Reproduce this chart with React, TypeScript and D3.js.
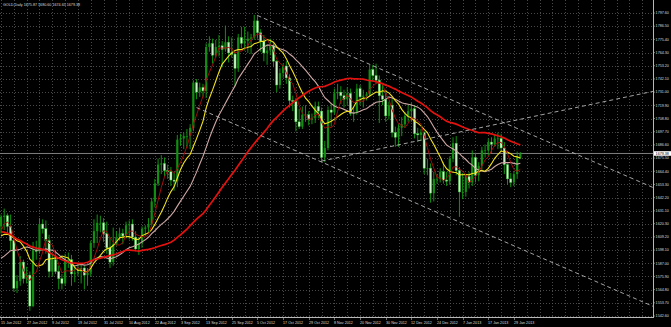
import React from 'react';
import * as d3 from 'd3';

const WIDTH = 671;
const HEIGHT = 327;
const PLOT_RIGHT = 653;
const PLOT_BOTTOM = 317;

type Bar = [number, number, number, number]; // open, high, low, close

// GOLD daily bars, 15 Jun 2012 – 31 Jan 2013
const jun2012: Bar[] = [
  [1618, 1628, 1612, 1626], [1626, 1633, 1615, 1627], [1627, 1629, 1612, 1618], [1618, 1628, 1598, 1606],
  [1606, 1610, 1563, 1566], [1566, 1577, 1562, 1572], [1572, 1593, 1568, 1588], [1588, 1590, 1570, 1574],
  [1574, 1584, 1570, 1577], [1577, 1580, 1547, 1551], [1551, 1605, 1550, 1598],
];
const jul2012: Bar[] = [
  [1598, 1606, 1590, 1597], [1597, 1625, 1595, 1620], [1620, 1624, 1612, 1616], [1616, 1623, 1595, 1606],
  [1606, 1611, 1575, 1580], [1580, 1595, 1576, 1590], [1590, 1598, 1578, 1580], [1580, 1585, 1565, 1574],
  [1574, 1578, 1565, 1570], [1570, 1595, 1568, 1589], [1589, 1596, 1583, 1590], [1590, 1594, 1568, 1578],
  [1578, 1584, 1571, 1579], [1579, 1587, 1576, 1580], [1580, 1587, 1570, 1583], [1583, 1585, 1565, 1577],
  [1577, 1583, 1568, 1579], [1579, 1606, 1576, 1604], [1604, 1624, 1600, 1614], [1614, 1628, 1604, 1621],
  [1621, 1627, 1613, 1621], [1621, 1625, 1605, 1612],
];
const aug2012: Bar[] = [
  [1612, 1622, 1595, 1600], [1600, 1609, 1583, 1588], [1588, 1617, 1585, 1603], [1603, 1614, 1602, 1609],
  [1609, 1617, 1606, 1612], [1612, 1616, 1603, 1610], [1610, 1622, 1608, 1619], [1619, 1623, 1607, 1620],
  [1620, 1624, 1606, 1609], [1609, 1614, 1597, 1599], [1599, 1608, 1594, 1604], [1604, 1618, 1600, 1616],
  [1616, 1619, 1610, 1617], [1617, 1625, 1613, 1620], [1620, 1642, 1618, 1639], [1639, 1658, 1634, 1654],
  [1654, 1675, 1652, 1670], [1670, 1678, 1662, 1671], [1671, 1676, 1660, 1665], [1665, 1670, 1658, 1664],
  [1664, 1668, 1652, 1657], [1657, 1663, 1648, 1656], [1656, 1695, 1651, 1691],
];
const sep2012: Bar[] = [
  [1691, 1696, 1686, 1692], [1692, 1697, 1683, 1694], [1694, 1700, 1684, 1694], [1694, 1704, 1683, 1701],
  [1701, 1741, 1698, 1739], [1739, 1742, 1725, 1731], [1731, 1739, 1727, 1735], [1735, 1738, 1727, 1732],
  [1732, 1772, 1726, 1769], [1769, 1778, 1765, 1772], [1772, 1776, 1755, 1762], [1762, 1775, 1760, 1769],
  [1769, 1779, 1761, 1770], [1770, 1774, 1752, 1767], [1767, 1787, 1765, 1773], [1773, 1778, 1756, 1764],
  [1764, 1777, 1760, 1763], [1763, 1765, 1736, 1751], [1751, 1780, 1748, 1777], [1777, 1786, 1768, 1772],
];
const oct2012: Bar[] = [
  [1772, 1786, 1766, 1774], [1774, 1782, 1764, 1776], [1776, 1780, 1763, 1777], [1777, 1796, 1775, 1791],
  [1791, 1796, 1776, 1781], [1781, 1784, 1765, 1774], [1774, 1779, 1757, 1764], [1764, 1771, 1754, 1766],
  [1766, 1776, 1762, 1770], [1770, 1772, 1752, 1757], [1757, 1758, 1731, 1737], [1737, 1751, 1734, 1747],
  [1747, 1755, 1743, 1753], [1753, 1757, 1738, 1743], [1743, 1746, 1718, 1724], [1724, 1728, 1715, 1723],
  [1723, 1726, 1698, 1706], [1706, 1717, 1700, 1702], [1702, 1719, 1700, 1712], [1712, 1720, 1706, 1712],
  [1712, 1715, 1703, 1708], [1708, 1713, 1704, 1709], [1709, 1723, 1705, 1719],
];
const nov2012: Bar[] = [
  [1719, 1723, 1709, 1715], [1715, 1718, 1672, 1676], [1676, 1690, 1672, 1684], [1684, 1719, 1682, 1716],
  [1716, 1722, 1702, 1714], [1714, 1734, 1712, 1730], [1730, 1738, 1725, 1731], [1731, 1736, 1721, 1728],
  [1728, 1733, 1718, 1725], [1725, 1735, 1720, 1730], [1730, 1734, 1711, 1713], [1713, 1719, 1706, 1714],
  [1714, 1738, 1712, 1734], [1734, 1737, 1720, 1727], [1727, 1733, 1718, 1728], [1728, 1731, 1724, 1729],
  [1729, 1754, 1727, 1750], [1750, 1754, 1740, 1745], [1745, 1755, 1738, 1741], [1741, 1745, 1705, 1728],
  [1728, 1737, 1720, 1725], [1725, 1733, 1706, 1711],
];
const dec2012: Bar[] = [
  [1711, 1723, 1708, 1720], [1720, 1725, 1693, 1697], [1697, 1702, 1685, 1693], [1693, 1704, 1685, 1701],
  [1701, 1710, 1694, 1704], [1704, 1714, 1701, 1711], [1711, 1720, 1706, 1715], [1715, 1722, 1706, 1717],
  [1717, 1720, 1692, 1696], [1696, 1701, 1689, 1695], [1695, 1700, 1690, 1697], [1697, 1698, 1662, 1667],
  [1667, 1675, 1661, 1667], [1667, 1671, 1638, 1646], [1646, 1664, 1639, 1658], [1658, 1662, 1654, 1658],
  [1658, 1667, 1655, 1664], [1664, 1672, 1654, 1657], [1657, 1664, 1652, 1656], [1656, 1677, 1653, 1675],
];
const jan2013: Bar[] = [
  [1675, 1693, 1672, 1688], [1688, 1694, 1661, 1665], [1665, 1668, 1626, 1647], [1647, 1663, 1641, 1647],
  [1647, 1662, 1643, 1660], [1660, 1664, 1650, 1655], [1655, 1682, 1652, 1676], [1676, 1680, 1655, 1661],
  [1661, 1672, 1656, 1669], [1669, 1685, 1665, 1682], [1682, 1687, 1676, 1682], [1682, 1692, 1677, 1689],
  [1689, 1693, 1680, 1687], [1687, 1695, 1685, 1692], [1692, 1697, 1683, 1692], [1692, 1696, 1681, 1684],
  [1684, 1689, 1662, 1670], [1670, 1671, 1653, 1658], [1658, 1663, 1651, 1655], [1655, 1664, 1652, 1662],
  [1662, 1681, 1658, 1676], [1675.87, 1680.6, 1674.65, 1679.38],
];

// Closes from 9 Apr to 14 Jun 2012, the look-back for the moving averages
const closesBefore = [
  1640, 1660, 1659, 1677, 1658, 1650, 1650, 1642, 1642,
  1642, 1638, 1643, 1642, 1658, 1663, 1664, 1662, 1654, 1637,
  1643, 1639, 1605, 1592, 1594, 1580, 1561, 1548, 1538, 1574,
  1592, 1590, 1571, 1561, 1557, 1572, 1572, 1551, 1565, 1562,
  1622, 1614, 1617, 1617, 1587, 1595, 1597, 1610, 1619, 1618,
];

// One date label every 8 bars, starting at the first bar
const dateLabels = [
  '15 Jun 2012', '27 Jun 2012', '9 Jul 2012', '19 Jul 2012', '31 Jul 2012', '10 Aug 2012', '22 Aug 2012',
  '3 Sep 2012', '13 Sep 2012', '25 Sep 2012', '5 Oct 2012', '17 Oct 2012', '29 Oct 2012', '8 Nov 2012',
  '20 Nov 2012', '30 Nov 2012', '12 Dec 2012', '24 Dec 2012', '7 Jan 2013', '17 Jan 2013', '29 Jan 2013',
];

const priceTicks = [
  1797.6, 1786.5, 1775.4, 1764.3, 1753.2, 1742.1, 1731.0, 1719.9, 1708.8, 1697.7, 1686.6, 1675.5,
  1664.4, 1653.3, 1642.2, 1631.1, 1620.3, 1609.2, 1598.1, 1587.0, 1575.9, 1564.8, 1553.7, 1542.6,
];

// Trend lines as [bar index, price] pairs
const channelTop: [number, number][] = [[80, 1795.5], [204, 1650]];
const channelBottom: [number, number][] = [[61, 1718], [204, 1550]];
const risingLine: [number, number][] = [[100, 1673], [204, 1732]];

const maSpecs = [
  { period: 20, color: '#cfa9a6', width: 1.1 },
  { period: 10, color: '#f2e21e', width: 1.1 },
  { period: 5, color: '#a10d0d', width: 1 },
  { period: 50, color: '#e3120f', width: 1.7 },
];

const bars: Bar[] = [...jun2012, ...jul2012, ...aug2012, ...sep2012, ...oct2012, ...nov2012, ...dec2012, ...jan2013];
const last = bars[bars.length - 1];

const FONT = '"Liberation Sans", Arial, sans-serif';
const FS = 3.7;
const TEXT = '#dcdcdc';

export default function App() {
  const x = d3.scaleLinear().domain([0, 204]).range([1, 655]);
  const y = d3.scaleLinear().domain([1542.6, 1797.6]).range([316, 13]);

  const allCloses = [...closesBefore, ...bars.map((b) => b[3])];
  const offset = closesBefore.length;
  const sma = (period: number) =>
    bars.map((_, i) => d3.mean(allCloses.slice(offset + i - period + 1, offset + i + 1)) as number);

  const line = d3
    .line<number>()
    .x((_, i) => x(i))
    .y((v) => y(v));

  const seg = d3
    .line<[number, number]>()
    .x((d) => x(d[0]))
    .y((d) => y(d[1]));

  const gridBars = d3.range(0, 201, 4);
  const bodyW = 2.2;

  return (
    <svg
      width={WIDTH}
      height={HEIGHT}
      style={{ position: 'absolute', left: 0, top: 0, background: '#000', display: 'block' }}
    >
      <rect x={0} y={0} width={WIDTH} height={HEIGHT} fill="#000" />
      <defs>
        <clipPath id="plot">
          <rect x={0} y={0} width={PLOT_RIGHT} height={PLOT_BOTTOM} />
        </clipPath>
      </defs>

      {/* grid */}
      <g stroke="#5a5a5a" strokeWidth={0.8} strokeDasharray="1 2" shapeRendering="crispEdges">
        {priceTicks.map((p) => (
          <line key={'h' + p} x1={0} x2={PLOT_RIGHT} y1={Math.round(y(p)) + 0.5} y2={Math.round(y(p)) + 0.5} />
        ))}
        {gridBars.map((b) => (
          <line key={'v' + b} x1={Math.round(x(b)) + 0.5} x2={Math.round(x(b)) + 0.5} y1={0} y2={PLOT_BOTTOM} />
        ))}
      </g>

      <g clipPath="url(#plot)">
        {/* bid line */}
        <line x1={0} x2={PLOT_RIGHT} y1={y(last[3])} y2={y(last[3])} stroke="#8c8c8c" strokeWidth={0.9} />

        {/* candles */}
        {bars.map((b, i) => {
          const [o, h, l, c] = b;
          const cx = x(i);
          const bull = c >= o;
          const top = y(Math.max(o, c));
          const bh = Math.max(0.7, y(Math.min(o, c)) - top);
          return (
            <g key={i}>
              <line x1={cx} x2={cx} y1={y(h)} y2={y(l)} stroke="#12a312" strokeWidth={0.9} />
              <rect
                x={cx - bodyW / 2}
                y={top}
                width={bodyW}
                height={bh}
                fill={bull ? '#128f12' : '#c9f3c6'}
                stroke={bull ? 'none' : '#2cba2c'}
                strokeWidth={0.4}
              />
            </g>
          );
        })}

        {/* moving averages */}
        {maSpecs.map((m) => (
          <path key={m.period} d={line(sma(m.period)) || ''} fill="none" stroke={m.color} strokeWidth={m.width} />
        ))}

        {/* trend lines */}
        <g fill="none" stroke="#b5b5b5" strokeWidth={0.9} strokeDasharray="4 3">
          <path d={seg(channelTop) || ''} />
          <path d={seg(channelBottom) || ''} />
          <path d={seg(risingLine) || ''} />
        </g>
      </g>

      {/* frame */}
      <g stroke="#b8b8b8" strokeWidth={1} shapeRendering="crispEdges">
        <line x1={PLOT_RIGHT + 0.5} x2={PLOT_RIGHT + 0.5} y1={0} y2={PLOT_BOTTOM + 0.5} />
        <line x1={0} x2={PLOT_RIGHT + 0.5} y1={PLOT_BOTTOM + 0.5} y2={PLOT_BOTTOM + 0.5} />
      </g>

      {/* price axis */}
      <g fontFamily={FONT} fontSize={FS} fill={TEXT}>
        {priceTicks.map((p) => (
          <g key={p}>
            <line x1={PLOT_RIGHT} x2={PLOT_RIGHT + 2} y1={y(p)} y2={y(p)} stroke="#b8b8b8" strokeWidth={0.6} />
            <text x={PLOT_RIGHT + 2.6} y={y(p) + 1.3}>
              {p.toFixed(2)}
            </text>
          </g>
        ))}
        <rect x={PLOT_RIGHT + 1} y={y(last[3]) - 2.3} width={17} height={4.6} fill="#ffffff" />
        <text x={PLOT_RIGHT + 2.6} y={y(last[3]) + 1.3} fill="#000">
          {last[3].toFixed(2)}
        </text>
      </g>

      {/* time axis */}
      <g fontFamily={FONT} fontSize={FS} fill={TEXT}>
        {dateLabels.map((d, k) => {
          const lx = Math.round(x(k * 8)) + 0.5;
          return (
            <g key={d}>
              <line x1={lx} x2={lx} y1={PLOT_BOTTOM} y2={PLOT_BOTTOM + 3} stroke="#b8b8b8" strokeWidth={0.6} />
              <text x={lx - 0.5} y={PLOT_BOTTOM + 7}>
                {d}
              </text>
            </g>
          );
        })}
      </g>

      {/* symbol header */}
      <text x={3} y={5.8} fontFamily={FONT} fontSize={FS} fill={TEXT}>
        {`GOLD,Daily  ${last[0].toFixed(2)} ${last[1].toFixed(2)} ${last[2].toFixed(2)} ${last[3].toFixed(2)}`}
      </text>
    </svg>
  );
}
